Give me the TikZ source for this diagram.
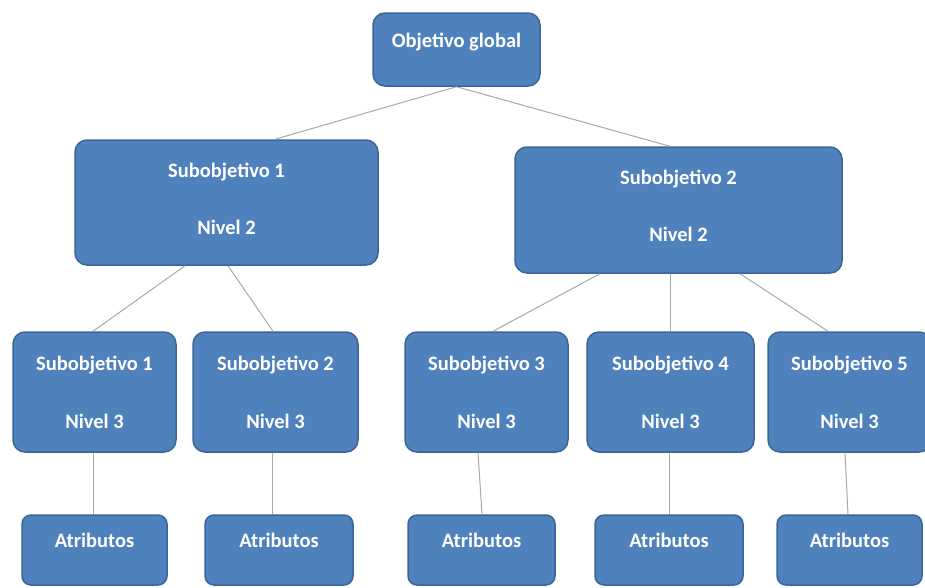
\documentclass[tikz,border=0pt]{standalone}
\usepackage{fontspec}
\setmainfont{Carlito}
\usepackage{xcolor}
\definecolor{boxblue}{HTML}{4F81BD}
\definecolor{boxedge}{HTML}{3B6597}
\definecolor{linkgray}{HTML}{A3A9B1}

\begin{document}
\begin{tikzpicture}[x=1pt,y=-1pt,
  goal/.style={draw=boxedge,fill=boxblue,line width=1.5pt,rounded corners=12pt,
    text=white,font=\fontsize{20.5}{25}\selectfont\bfseries,align=center,inner sep=0pt},
  onebox/.style={goal,text height=14pt,text depth=19pt},
  lvtwo/.style={goal,text depth=8pt},
  lvthree/.style={goal,minimum height=120pt},
  attr/.style={onebox,rounded corners=9pt,minimum height=70pt},
  link/.style={draw=linkgray,line width=1pt}]
\useasboundingbox (0,0) rectangle (925,587);
%\draw[step=20pt,gray,very thin] (0,0) grid (925,587);
% level 1
\node[onebox,minimum width=167pt,minimum height=73pt] (top) at (456.5,49.5) {Objetivo global};
% level 2
\node[lvtwo,minimum width=303pt,minimum height=125pt] (s1) at (226.5,202.5) {Subobjetivo 1\\[32pt]Nivel 2};
\node[lvtwo,minimum width=327pt,minimum height=126pt] (s2) at (678.5,210) {Subobjetivo 2\\[32pt]Nivel 2};
% level 3
\node[lvthree,minimum width=163pt] (a) at (94.5,392) {Subobjetivo 1\\[33pt]Nivel 3};
\node[lvthree,minimum width=165pt] (b) at (275.5,392) {Subobjetivo 2\\[33pt]Nivel 3};
\node[lvthree,minimum width=163pt] (c) at (486.5,392) {Subobjetivo 3\\[33pt]Nivel 3};
\node[lvthree,minimum width=167pt] (d) at (670.5,392) {Subobjetivo 4\\[33pt]Nivel 3};
\node[lvthree,minimum width=163pt] (e) at (849.5,392) {Subobjetivo 5\\[33pt]Nivel 3};
% atributos
\node[attr,minimum width=145pt] (ta) at (94.5,550) {Atributos};
\node[attr,minimum width=148pt] (tb) at (279,550) {Atributos};
\node[attr,minimum width=147pt] (tc) at (481.5,550) {Atributos};
\node[attr,minimum width=148pt] (td) at (669,550) {Atributos};
\node[attr,minimum width=145pt] (te) at (849.5,550) {Atributos};
% connectors
\draw[link] (top.south) -- ([xshift=48.5pt]s1.north);
\draw[link] (top.south) -- ([xshift=-8.5pt]s2.north);
\draw[link] ([xshift=-41.5pt]s1.south) -- ([xshift=-1.5pt]a.north);
\draw[link] ([xshift=1.5pt]s1.south) -- ([xshift=-2.5pt]b.north);
\draw[link] ([xshift=-78.5pt]s2.south) -- ([xshift=6.5pt]c.north);
\draw[link] ([xshift=-8.5pt]s2.south) -- ([xshift=-0.5pt]d.north);
\draw[link] ([xshift=61.5pt]s2.south) -- ([xshift=-21.5pt]e.north);
\draw[link] ([xshift=-1.5pt]a.south) -- ([xshift=-1.5pt]ta.north);
\draw[link] ([xshift=-3.5pt]b.south) -- ([xshift=-7pt]tb.north);
\draw[link] ([xshift=-8.5pt]c.south) -- ([xshift=0.5pt]tc.north);
\draw[link] ([xshift=-1.5pt]d.south) -- (td.north);
\draw[link] ([xshift=-4.5pt]e.south) -- ([xshift=-1.5pt]te.north);
\end{tikzpicture}
\end{document}
